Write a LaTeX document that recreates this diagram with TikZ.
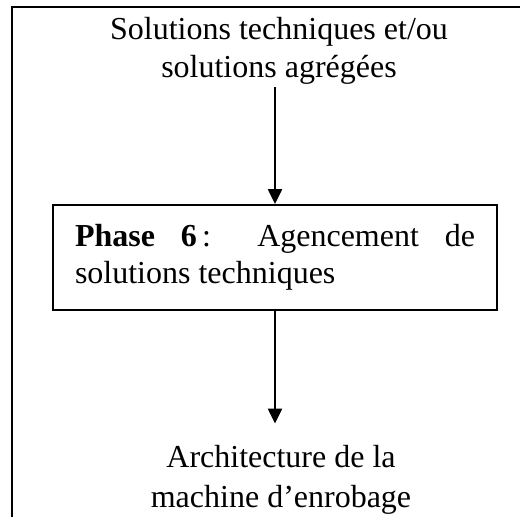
\documentclass[tikz,border=0pt]{standalone}
\usepackage{fontspec}
\setmainfont{Liberation Serif}
\usetikzlibrary{arrows.meta}
\newcommand\nohyphenation{\hyphenpenalty=10000\relax\exhyphenpenalty=10000\relax\tolerance=10000\relax}
\tikzset{
  txt/.style={inner sep=0pt, align=center, font=\fontsize{32}{38}\selectfont},
  phasebox/.style={draw, line width=1.8pt, minimum width=444pt, minimum height=105pt,
    text width=400pt, inner sep=0pt, align=justify,
    font=\fontsize{32}{37}\selectfont\nohyphenation},
  flow/.style={line width=2.2pt, -{Triangle[length=15pt,width=14pt]}},
  frame/.style={line width=2.4pt}
}
\begin{document}
\begin{tikzpicture}[x=1pt,y=-1pt]
\useasboundingbox (0,0) rectangle (520,517);
\draw[frame] (12,517) -- (12,7) -- (520,7);
\node[txt, anchor=base] (src) at (279,77) {Solutions techniques et/ou\\solutions agrégées};
\node[phasebox] (phase) at (275,257.5) {\textbf{Phase 6}\,: Agencement de solutions techniques};
\node[txt, anchor=base, font=\fontsize{32}{40}\selectfont] (dst) at (281,507) {Architecture de la\\machine d’enrobage};
\draw[flow, shorten <=3pt] (src.south -| phase.north) -- (phase.north);
\draw[flow, shorten >=21pt] (phase.south) -- (phase.south |- dst.north);
\end{tikzpicture}
\end{document}
